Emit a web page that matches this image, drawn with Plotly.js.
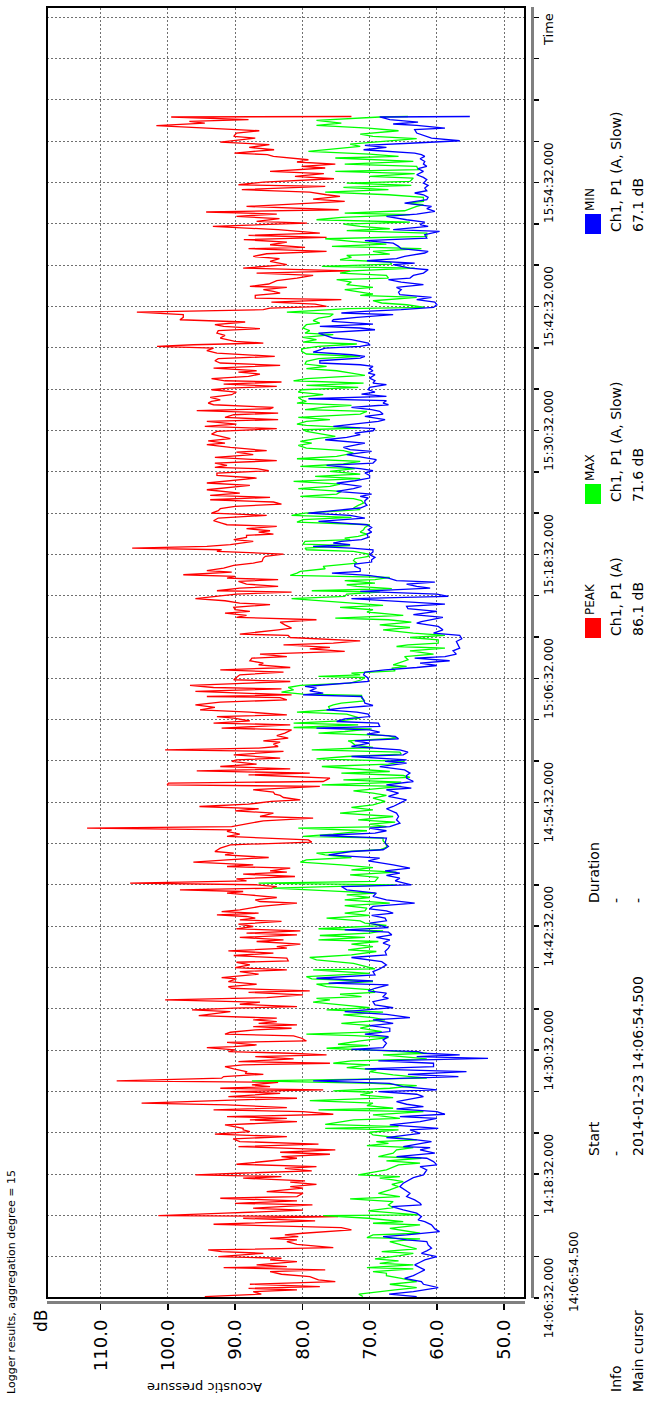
<!DOCTYPE html>
<html>
<head>
<meta charset="utf-8">
<script src="https://cdn.plot.ly/plotly-3.0.1.min.js"></script>
<style>
html,body{margin:0;padding:0;background:#fff;overflow:hidden;}
#wrap{position:absolute;left:0;top:0;width:648px;height:1402px;overflow:hidden;background:#fff;}
#chart{position:absolute;left:0;top:0;width:1402px;height:648px;transform-origin:0 0;transform:translate(0px,1402px) rotate(-90deg);}
</style>
</head>
<body>
<div id="wrap"><div id="chart"></div></div>
<script>
// ---------------- DATA ----------------
// readings: [minutes after 14:06:32, level in dB]
const chartTitle = 'Logger results, aggregation degree = 15';
const timeAxisStart = '2014-01-23 14:06:32';
const seriesNames = ['PEAK', 'MAX', 'MIN'];
const seriesColors = ['#ff0000', '#00ff00', '#0000ff'];

const peakReadings = [
[0.14,94.5],[0.38,86.1],[0.62,87.3],[0.78,80.8],[0.94,88.0],[1.10,77.4],[1.33,87.8],[1.59,75.1],[1.75,77.6],[2.07,78.9],
[2.30,83.1],[2.56,84.8],[2.72,76.6],[2.94,91.7],[3.04,82.3],[3.20,86.8],[3.53,80.8],[3.69,84.8],[3.85,83.1],[4.01,92.5],
[4.33,85.8],[4.49,92.0],[4.65,94.0],[4.88,75.4],[5.20,80.8],[5.46,82.3],[5.62,80.8],[5.78,84.8],[5.95,80.6],[6.11,82.6],
[6.27,79.9],[6.59,72.7],[6.82,74.2],[7.14,93.2],[7.46,78.1],[7.72,88.8],[7.88,74.7],[7.98,101.4],[8.21,91.5],[8.50,79.9],
[8.69,87.3],[9.01,78.5],[9.17,90.0],[9.40,80.8],[9.66,92.2],[9.82,80.8],[10.14,79.9],[10.30,85.3],[10.63,79.9],[10.79,81.8],
[11.01,77.9],[11.21,81.8],[11.34,79.6],[11.60,88.8],[11.76,83.1],[11.92,95.9],[12.08,89.5],[12.31,78.6],[12.56,82.6],[12.72,77.9],
[12.95,89.8],[13.53,80.8],[13.69,83.1],[13.92,75.9],[14.11,83.3],[14.34,75.1],[14.66,89.5],[14.89,77.6],[15.15,89.3],[15.40,90.3],
[15.63,82.3],[15.86,93.0],[16.11,87.8],[16.28,88.8],
[16.43,88.8],[16.76,91.5],[17.08,80.8],[17.24,87.8],[17.40,82.3],[17.56,91.2],[17.79,75.4],[18.05,79.9],[18.21,93.2],[18.44,82.3],
[18.69,91.2],[18.86,103.9],[19.18,89.3],[19.34,80.8],[19.50,91.0],[19.82,83.3],[19.99,90.7],[20.15,76.9],[20.31,92.2],[20.47,84.8],
[20.63,87.5],[20.89,83.6],[21.02,107.6],[21.28,92.0],[21.44,91.7],[21.66,85.8],[21.76,88.5],[21.92,88.3],[22.18,90.2],[22.41,91.5],
[22.57,88.8],[22.73,75.9],[22.89,89.5],[23.15,81.3],[23.37,87.0],[23.54,76.4],[23.70,81.8],[23.86,91.0],[24.02,90.0],[24.25,94.2],
[24.34,90.2],[24.50,86.8],[24.76,91.2],[24.89,79.4],[25.15,80.1],[25.38,81.3],[25.54,91.5],[25.73,90.7],[25.96,87.0],[26.12,81.6],
[26.28,87.3],[26.44,80.8],[26.60,86.5],[26.76,83.8],[26.93,87.3],[27.09,83.8],[27.35,95.4],[27.73,90.7],[27.89,96.4],[28.06,90.2],
[28.22,80.8],[28.44,89.3],[28.64,86.3],[28.86,100.4],[29.09,85.3],[29.35,79.9],[29.60,88.0],[29.73,78.9],[29.99,90.5],[30.15,91.0],
[30.38,86.8],[30.64,91.0],[30.90,89.8],[31.02,92.0],[31.35,86.5],[31.61,89.3],[31.77,82.3],[31.99,90.0],[32.25,87.8],[32.51,89.8],
[32.64,82.1],
[32.90,82.3],[33.16,90.2],[33.39,84.3],[33.61,91.0],[33.87,82.3],[34.03,83.8],[34.26,80.3],[34.52,86.8],[34.68,82.8],[34.91,89.3],
[35.16,80.8],[35.33,88.3],[35.55,80.3],[35.75,89.8],[35.97,87.3],[36.20,89.5],[36.46,83.1],[36.62,89.3],[36.78,87.0],[36.94,88.3],
[37.10,92.7],[37.26,86.5],[37.42,92.0],[37.58,89.3],[37.91,86.3],[38.23,80.8],[38.39,86.3],[38.55,87.0],[38.78,83.8],[39.04,88.0],
[39.20,91.2],[39.36,88.8],[39.52,98.2],[39.68,84.6],[39.84,83.8],[40.01,86.8],[40.17,105.6],[40.39,88.3],[40.59,89.8],[40.81,81.1],
[41.04,88.8],[41.23,82.3],[41.36,84.8],[41.62,81.8],[41.78,91.2],[41.94,87.3],[42.20,96.2],[42.43,91.2],[42.65,85.0],[42.91,91.5],
[43.07,90.2],[43.23,93.0],[43.56,92.2],[43.88,90.7],[44.14,78.6],[44.36,79.1],[44.69,91.2],[44.91,89.3],[45.17,91.2],[45.33,90.5],
[45.49,112.0],[45.65,90.5],[45.98,87.3],[46.20,85.8],[46.46,78.4],[46.62,86.3],[46.95,84.3],[47.17,90.0],[47.37,86.5],[47.59,95.3],
[47.82,88.0],[48.08,84.6],[48.24,80.3],[48.46,82.8],[48.66,83.3],[48.79,84.1],[48.98,84.3],[49.21,87.3],
[49.53,77.4],[49.69,100.1],[49.85,99.9],[50.01,76.9],[50.33,75.9],[50.66,88.0],[50.82,78.9],[51.04,95.7],[51.24,81.8],[51.46,92.2],
[51.69,86.8],[51.95,90.5],[52.11,89.8],[52.27,83.3],[52.59,90.2],[52.75,86.3],[52.92,82.8],[53.08,100.4],[53.24,86.5],[53.40,83.6],
[53.63,84.3],[53.82,83.3],[53.95,85.8],[54.21,82.1],[54.46,83.8],[54.69,82.6],[55.01,81.6],[55.17,92.0],[55.50,81.8],[55.66,93.2],
[55.88,87.8],[56.14,90.2],[56.30,92.7],[56.47,82.3],[56.72,87.8],[56.95,95.2],[57.18,93.0],[57.43,95.9],[57.69,92.2],[57.92,82.3],
[58.14,83.3],[58.24,94.2],[58.40,81.6],[58.73,95.9],[58.98,83.1],[59.11,93.2],[59.31,96.7],[59.69,81.8],[59.86,90.2],[60.08,89.8],
[60.34,89.3],[60.60,82.8],[60.82,92.2],[61.05,81.8],[61.31,86.5],[61.47,85.8],[61.70,87.8],[61.95,87.5],[62.11,82.3],[62.34,86.3],
[62.60,73.7],[62.86,78.9],[62.99,75.9],[63.24,82.8],[63.41,75.4],[63.63,71.4],[63.83,76.9],[63.95,81.8],[64.15,82.1],[64.28,89.3],
[64.70,83.6],[64.86,81.6],[65.18,82.6],[65.44,83.3],[65.67,77.9],
[65.90,89.8],[66.09,88.3],[66.32,91.5],[66.48,87.8],[66.64,90.0],[66.87,90.2],[67.13,84.8],[67.29,89.3],[67.51,91.5],[67.71,95.9],
[67.93,93.2],[68.16,89.8],[68.35,81.6],[68.48,92.7],[68.74,89.3],[68.90,83.6],[69.13,88.3],[69.39,89.5],[69.55,83.6],[69.71,91.2],
[69.87,90.0],[70.03,97.7],[70.29,90.5],[70.42,94.2],[70.68,91.7],[70.93,90.2],[71.16,87.3],[71.32,86.0],[71.64,85.8],[71.81,85.5],
[72.03,82.8],[72.29,92.7],[72.45,92.0],[72.61,105.3],[72.77,94.2],[72.94,90.7],[73.26,87.3],[73.42,90.2],[73.65,88.3],[73.84,88.3],
[73.97,84.3],[74.16,86.5],[74.29,84.8],[74.49,88.3],[74.71,83.8],[74.87,91.2],[75.03,92.0],[75.26,93.2],[75.52,92.5],[75.78,85.3],
[76.00,93.5],[76.23,92.5],[76.42,92.2],[76.65,90.0],[76.87,83.1],[77.07,84.3],[77.29,93.7],[77.52,84.8],[77.71,93.7],[77.94,89.3],
[78.26,94.2],[78.49,90.2],[78.68,87.8],[78.91,94.2],[79.13,91.2],[79.39,86.8],[79.65,92.7],[79.88,92.7],[80.10,85.0],[80.30,86.8],
[80.42,93.0],[80.62,91.2],[80.84,93.0],[81.07,83.8],[81.39,93.0],[81.65,87.3],[81.91,89.8],[82.04,85.3],
[82.36,90.7],[82.62,94.2],[82.78,91.5],[83.00,94.0],[83.20,90.7],[83.42,92.2],[83.65,93.5],[83.91,92.7],[84.17,83.8],[84.39,94.5],
[84.62,89.8],[84.88,94.2],[85.04,83.6],[85.26,91.5],[85.52,90.2],[85.68,83.6],[85.91,95.7],[86.10,84.8],[86.23,84.3],[86.49,93.2],
[86.65,94.0],[86.81,93.5],[86.97,92.2],[87.20,93.7],[87.46,90.5],[87.72,89.8],[87.94,93.5],[88.10,91.0],[88.27,83.8],[88.49,91.7],
[88.69,83.1],[88.81,91.5],[89.01,93.5],[89.23,88.0],[89.46,86.3],[89.65,89.5],[89.78,86.8],[90.04,93.2],[90.30,83.3],[90.53,92.2],
[90.75,93.0],[90.95,92.5],[91.17,84.1],[91.49,92.7],[91.72,94.2],[91.98,93.2],[92.14,101.6],[92.30,96.2],[92.46,85.8],[92.62,90.0],
[92.95,92.2],[93.21,91.5],[93.43,92.7],[93.66,92.5],[93.85,86.3],[94.08,91.7],[94.24,93.0],[94.50,88.5],[94.72,98.2],[94.95,97.7],
[95.21,97.7],[95.46,104.6],[95.69,85.8],[95.85,84.8],[96.01,76.4],[96.24,78.1],[96.43,84.6],[96.66,74.2],[96.82,87.0],[97.08,87.0],
[97.30,83.3],[97.47,84.3],[97.63,85.8],[97.85,82.3],[97.95,87.8],[98.18,85.0],[98.37,84.3],[98.50,83.8],
[98.75,80.8],[99.01,78.4],[99.24,86.8],[99.46,72.9],[99.72,88.8],[100.05,82.3],[100.37,84.8],[100.63,83.4],[100.85,87.3],[101.11,85.3],
[101.34,76.4],[101.60,88.0],[101.72,79.6],[101.98,84.8],[102.24,82.3],[102.47,88.7],[102.69,76.4],[102.89,88.0],[103.11,77.4],[103.44,83.6],
[103.76,93.3],[104.08,79.3],[104.24,86.8],[104.50,83.4],[104.73,89.8],[104.95,83.8],[105.15,94.3],[105.37,74.6],[105.69,88.3],[105.92,80.8],
[106.18,73.7],[106.40,78.4],[106.66,74.4],[106.82,76.4],[107.08,78.9],[107.31,89.0],[107.63,76.6],[107.79,89.5],[108.05,85.8],[108.37,75.3],
[108.60,81.1],[108.86,76.8],[109.08,84.8],[109.41,76.6],[109.57,80.1],[109.79,75.1],[109.99,80.8],[110.21,79.1],[110.54,84.3],[110.70,85.2],
[110.86,90.1],[111.18,84.2],[111.41,87.9],[111.67,84.9],[111.92,92.2],[112.31,87.0],[112.47,90.2],[112.80,89.8],[113.02,86.4],[113.28,94.2],
[113.51,101.7],[113.76,94.5],[113.93,96.8],[114.09,88.0],[114.35,99.5],[114.40,72.7]
];

const maxReadings = [
[0.14,71.0],[0.38,71.6],[0.78,66.2],[1.01,63.0],[1.33,67.0],[1.59,63.0],[1.91,65.3],[2.17,67.5],[2.40,67.5],[2.56,69.5],
[2.82,63.5],[2.94,70.4],[3.20,63.5],[3.36,68.5],[3.59,65.7],[3.78,69.2],[4.11,65.5],[4.33,63.5],[4.49,68.2],[4.75,63.0],
[5.14,65.3],[5.46,67.0],[5.72,62.5],[5.85,70.4],[6.11,69.5],[6.27,62.5],[6.75,67.0],[7.08,62.5],[7.24,69.5],[7.40,65.0],
[7.72,70.2],[7.98,76.9],[8.04,62.8],[8.43,70.2],[8.75,66.5],[9.01,67.2],[9.34,66.5],[9.59,72.9],[9.82,65.5],[10.14,68.7],
[10.47,67.0],[10.79,65.7],[11.01,66.7],[11.27,65.0],[11.43,66.5],[11.60,68.5],[11.76,65.5],[11.92,71.7],[12.40,67.5],[12.89,65.7],
[13.05,62.5],[13.27,67.5],[13.53,62.3],[13.69,68.7],[14.02,66.5],[14.34,66.0],[14.56,63.5],[14.76,70.4],[14.98,67.2],[15.15,69.0],
[15.31,63.0],[15.63,67.2],[15.79,69.5],[16.05,70.0],[16.28,65.7],
[16.43,76.6],[16.60,65.7],[16.82,76.6],[17.24,72.4],[17.40,65.5],[17.73,69.5],[18.05,62.0],[18.21,77.6],[18.37,66.5],[18.63,70.4],
[18.86,69.5],[19.11,78.9],[19.40,66.5],[19.66,71.4],[19.92,69.5],[20.05,75.4],[20.31,67.0],[20.57,63.0],[20.79,69.5],[21.02,87.5],
[21.28,61.5],[21.60,66.5],[21.92,70.0],[22.08,69.0],[22.31,73.4],[22.57,70.0],[22.73,75.4],[22.95,72.7],[23.15,61.5],[23.37,66.0],
[23.54,68.0],[23.70,61.5],[23.92,67.2],[24.18,76.4],[24.44,70.2],[24.57,74.7],[24.89,71.4],[25.21,67.2],[25.41,72.2],[25.54,79.4],
[25.80,68.2],[26.12,71.4],[26.38,69.7],[26.60,74.2],[26.93,67.7],[27.15,69.5],[27.41,73.9],[27.67,68.0],[27.89,76.4],[28.12,70.0],
[28.38,74.4],[28.64,78.4],[28.86,75.9],[29.02,77.9],[29.18,71.2],[29.41,74.4],[29.60,69.2],[29.83,69.5],[30.15,76.4],[30.38,77.9],
[30.64,69.5],[30.90,78.6],[31.12,79.4],[31.44,70.0],[31.77,78.4],[31.86,69.2],[32.41,72.4],[32.74,77.9],
[32.97,78.9],[33.23,72.7],[33.55,69.0],[33.71,73.2],[34.03,69.5],[34.26,72.7],[34.52,68.7],[34.68,77.6],[34.91,70.7],[35.10,77.4],
[35.33,70.0],[35.55,68.0],[35.75,77.6],[36.07,67.5],[36.29,70.7],[36.52,71.4],[36.78,76.4],[37.04,70.0],[37.26,73.7],[37.49,70.7],
[37.75,70.4],[38.00,73.7],[38.23,67.0],[38.55,73.7],[38.78,70.0],[39.04,73.4],[39.20,69.2],[39.42,75.4],[39.68,84.3],[40.01,66.2],
[40.17,86.5],[40.33,69.2],[40.72,68.7],[40.97,72.9],[41.23,66.0],[41.46,72.7],[41.68,69.5],[41.94,74.2],[42.20,80.3],[42.43,79.4],
[42.65,72.7],[42.91,76.6],[43.07,77.9],[43.40,68.5],[43.62,67.5],[43.94,67.5],[44.27,68.0],[44.53,68.0],[44.69,79.9],[44.91,75.4],
[45.24,70.4],[45.49,80.6],[45.65,67.5],[45.88,70.0],[46.07,66.2],[46.30,71.7],[46.62,66.5],[46.95,74.4],[47.27,69.5],[47.50,72.7],
[47.75,69.5],[48.08,67.7],[48.40,69.5],[48.66,67.5],[48.88,69.5],[49.11,72.4],
[49.53,65.3],[49.69,77.1],[49.95,65.3],[50.17,73.9],[50.40,64.0],[50.59,65.0],[50.82,74.2],[50.98,67.0],[51.24,72.4],[51.46,77.1],
[51.69,67.2],[51.95,64.8],[52.20,77.9],[52.43,73.4],[52.66,65.3],[52.85,65.5],[53.08,78.6],[53.30,69.5],[53.56,72.2],[53.82,72.7],
[53.95,73.2],[54.21,66.0],[54.46,67.2],[54.69,77.6],[54.85,73.7],[55.11,69.7],[55.24,81.3],[55.50,71.7],[55.66,81.3],[55.88,74.4],
[56.14,71.4],[56.30,72.4],[56.53,73.4],[56.72,80.8],[56.95,75.9],[57.27,76.1],[57.43,75.4],[57.60,74.2],[57.82,70.7],[58.08,71.2],
[58.34,71.2],[58.47,79.9],[58.66,83.1],[58.89,81.3],[59.11,82.1],[59.31,80.3],[59.53,72.9],[59.86,71.2],[60.08,70.7],[60.18,77.6],
[60.34,71.4],[60.50,72.7],[60.73,66.2],[60.99,66.7],[61.15,64.5],[61.31,66.5],[61.79,64.3],[62.11,64.8],[62.34,60.5],[62.66,64.0],
[62.92,58.8],[63.08,66.0],[63.24,64.3],[63.41,59.8],[63.73,59.8],[63.95,64.0],[64.15,58.8],[64.37,63.5],[64.70,68.0],[64.92,64.0],
[65.18,68.5],[65.44,63.8],[65.67,67.2],
[65.83,75.1],[66.09,65.0],[66.22,67.0],[66.42,70.4],[66.64,69.5],[66.87,74.4],[67.06,68.0],[67.29,72.7],[67.51,76.9],[67.71,81.6],
[67.93,73.7],[68.16,73.4],[68.35,68.5],[68.48,78.6],[68.68,66.7],[68.90,71.9],[69.06,73.4],[69.22,69.2],[69.45,73.7],[69.55,69.2],
[69.77,67.0],[69.97,81.8],[70.19,80.8],[70.35,80.3],[70.61,76.6],[70.84,76.9],[71.16,71.9],[71.39,72.4],[71.58,72.2],[71.81,70.2],
[72.03,70.2],[72.29,72.4],[72.45,79.4],[72.61,79.6],[72.84,72.9],[73.00,79.9],[73.26,79.6],[73.42,72.9],[73.58,73.7],[73.74,71.7],
[73.97,70.4],[74.16,71.4],[74.39,70.9],[74.61,70.7],[74.87,70.0],[75.13,80.8],[75.36,79.9],[75.58,72.7],[75.78,81.6],[76.00,79.6],
[76.33,71.4],[76.49,72.4],[76.75,71.7],[76.97,70.9],[77.20,71.2],[77.39,72.4],[77.62,80.3],[77.84,74.9],[78.10,74.2],[78.36,80.6],
[78.58,75.9],[78.81,74.4],[79.07,81.3],[79.33,71.4],[79.55,78.1],[79.78,71.4],[80.04,75.9],[80.30,72.2],[80.52,80.3],[80.75,73.9],
[81.01,71.4],[81.26,80.8],[81.49,74.9],[81.81,72.4],[82.04,73.9],
[82.29,79.4],[82.55,80.6],[82.78,78.6],[82.94,80.3],[83.20,77.9],[83.42,75.1],[83.65,76.9],[83.91,79.4],[84.07,79.9],[84.23,71.4],
[84.49,79.4],[84.62,80.8],[84.88,79.4],[85.04,75.9],[85.26,80.6],[85.46,74.9],[85.59,71.4],[85.85,70.4],[86.01,79.6],[86.23,76.9],
[86.43,72.7],[86.65,80.8],[86.81,79.4],[86.97,80.1],[87.20,80.6],[87.46,76.9],[87.72,80.6],[87.94,80.1],[88.17,71.7],[88.36,79.4],
[88.59,70.9],[88.81,81.3],[89.01,79.4],[89.14,76.1],[89.33,70.7],[89.56,72.7],[89.78,74.9],[89.98,79.4],[90.20,76.4],[90.43,79.6],
[90.69,79.4],[90.95,77.6],[91.17,71.4],[91.40,79.4],[91.66,80.1],[91.91,80.1],[92.14,77.6],[92.37,71.9],[92.56,79.9],[92.79,77.9],
[93.01,79.9],[93.27,75.4],[93.43,79.6],[93.66,78.9],[93.92,79.9],[94.24,79.4],[94.40,77.4],[94.63,78.4],[94.88,77.6],[95.04,75.9],
[95.27,75.4],[95.46,82.3],[95.79,73.2],[95.92,61.8],[96.17,64.5],[96.34,68.2],[96.56,69.5],[96.88,63.0],[97.08,71.4],[97.21,69.5],
[97.40,71.4],[97.63,73.7],[97.85,69.5],[98.11,73.4],[98.37,72.7],[98.60,74.9],
[98.75,67.2],[99.01,67.5],[99.24,74.4],[99.46,72.7],[99.72,63.3],[99.88,77.1],[100.11,66.7],[100.30,67.0],[100.53,74.4],[100.76,72.7],
[100.95,73.4],[101.08,67.0],[101.34,69.5],[101.60,62.3],[101.82,75.6],[102.05,67.5],[102.31,72.7],[102.56,76.6],[102.79,61.5],[103.11,61.5],
[103.34,73.4],[103.53,67.0],[103.76,71.4],[103.98,73.9],[104.18,64.0],[104.40,77.9],[104.63,74.2],[104.89,64.0],[105.05,73.7],[105.27,64.8],
[105.69,63.0],[105.86,62.0],[106.02,64.5],[106.18,62.0],[106.57,62.0],[106.82,67.2],[107.08,76.6],[107.31,67.2],[107.53,73.9],[107.73,63.8],
[107.95,73.4],[108.12,64.0],[108.44,63.5],[108.60,70.0],[108.86,63.3],[109.08,75.1],[109.25,62.8],[109.57,63.0],[109.79,73.7],[110.05,63.5],
[110.38,75.1],[110.54,65.7],[110.76,70.0],[111.02,79.1],[111.51,71.4],[111.73,72.9],[111.99,68.0],[112.25,63.0],[112.47,69.5],[112.70,71.4],
[113.02,65.7],[113.28,70.2],[113.54,77.9],[113.76,74.2],[114.02,77.9],[114.35,68.5],[114.40,64.3]
];

const minReadings = [
[0.14,63.0],[0.38,67.1],[0.62,63.5],[1.01,59.8],[1.33,62.0],[1.59,62.3],[1.91,64.8],[2.17,63.5],[2.40,62.8],[2.72,61.8],
[2.94,62.5],[3.20,63.3],[3.46,62.5],[3.69,61.8],[4.01,60.0],[4.33,62.3],[4.56,61.5],[4.82,60.8],[5.14,61.3],[5.46,61.5],
[5.62,64.5],[5.95,68.0],[6.11,64.5],[6.43,59.6],[6.69,60.3],[7.08,60.8],[7.40,61.8],[7.56,62.8],[7.88,62.3],[8.21,63.0],
[8.53,65.0],[8.85,66.7],[9.01,62.3],[9.17,62.5],[9.50,63.3],[9.82,64.5],[10.14,64.0],[10.47,64.8],[10.79,65.5],[11.11,65.0],
[11.43,64.0],[11.66,63.5],[11.92,62.0],[12.40,61.5],[12.72,62.5],[12.89,60.0],[13.21,60.5],[13.53,61.5],[13.69,66.0],[14.02,60.3],
[14.34,62.5],[14.56,61.0],[14.66,65.0],[14.98,62.3],[15.15,60.8],[15.31,63.0],[15.53,67.5],[15.95,62.5],[16.28,64.0],
[16.43,59.8],[16.76,67.0],[17.08,62.5],[17.40,60.0],[17.56,65.5],[17.79,58.8],[18.05,60.0],[18.31,66.0],[18.53,62.0],[18.76,64.5],
[19.02,66.0],[19.34,63.0],[19.50,62.0],[19.73,63.0],[19.99,68.7],[20.15,60.0],[20.47,65.0],[20.79,67.0],[21.02,78.4],[21.21,68.0],
[21.44,56.8],[21.66,64.3],[21.92,55.6],[22.18,70.7],[22.41,60.5],[22.73,60.5],[22.95,68.7],[23.21,52.4],[23.37,63.0],[23.54,56.6],
[23.70,62.0],[23.86,62.8],[24.08,72.7],[24.25,68.0],[24.67,67.5],[24.99,68.0],[25.31,67.2],[25.54,70.7],[25.80,67.0],[26.12,67.0],
[26.38,70.0],[26.60,66.5],[26.93,69.5],[27.15,64.0],[27.47,67.5],[27.73,73.7],[28.12,66.5],[28.38,69.2],[28.70,69.5],[29.02,67.2],
[29.18,68.0],[29.51,67.5],[29.73,70.2],[29.99,69.2],[30.31,67.2],[30.48,76.1],[30.70,69.5],[30.96,77.9],[31.28,69.2],[31.61,69.5],
[31.86,68.5],[32.25,67.5],[32.57,68.2],
[32.97,72.7],[33.23,67.5],[33.55,67.7],[33.87,67.2],[34.13,67.0],[34.36,68.0],[34.68,67.0],[34.91,69.0],[35.16,66.7],[35.42,67.2],
[35.65,73.7],[35.87,67.2],[36.07,68.5],[36.29,70.0],[36.52,67.5],[36.78,67.7],[37.04,69.7],[37.26,66.5],[37.49,67.5],[37.68,70.0],
[37.91,69.5],[38.23,63.3],[38.55,67.5],[38.88,69.5],[39.20,69.0],[39.52,73.4],[39.84,74.2],[40.01,63.8],[40.39,66.2],[40.65,65.5],
[40.91,67.5],[41.14,65.5],[41.36,67.7],[41.62,64.0],[41.94,66.5],[42.33,70.2],[42.59,68.5],[42.75,72.9],[42.91,76.1],[43.23,72.7],
[43.40,68.0],[43.72,67.2],[44.04,67.7],[44.53,67.5],[44.78,77.4],[45.01,69.2],[45.24,67.5],[45.49,70.0],[45.65,67.0],[45.98,65.5],
[46.30,66.0],[46.62,65.7],[46.95,66.0],[47.37,67.5],[47.59,66.5],[47.91,65.5],[48.24,64.5],[48.56,67.2],[48.88,65.7],[49.21,67.5],
[49.36,63.8],[49.69,67.5],[50.01,63.5],[50.33,64.5],[50.59,64.5],[50.82,64.0],[51.14,64.8],[51.46,68.5],[51.79,64.5],[51.95,67.7],
[52.11,64.5],[52.43,72.7],[52.59,65.0],[52.85,64.3],[53.08,65.5],[53.40,72.7],[53.72,70.0],[53.95,72.2],[54.14,65.7],[54.37,66.2],
[54.59,70.4],[54.79,68.5],[55.01,70.0],[55.17,77.9],[55.34,68.5],[55.66,68.7],[55.82,74.9],[56.08,73.7],[56.30,70.0],[56.53,70.2],
[56.72,71.9],[56.95,76.4],[57.11,74.2],[57.37,69.5],[57.60,70.7],[57.92,70.9],[58.24,71.2],[58.40,79.9],[58.56,76.9],[58.79,78.9],
[59.05,77.9],[59.21,79.6],[59.53,72.5],[59.69,70.2],[60.02,70.2],[60.34,70.9],[60.60,70.7],[60.82,67.7],[61.05,63.0],[61.24,60.0],
[61.47,62.5],[61.70,58.1],[61.95,63.3],[62.11,58.8],[62.34,57.1],[62.66,57.6],[62.92,56.6],[63.24,56.8],[63.57,57.1],[63.83,56.3],
[64.15,56.6],[64.37,60.5],[64.70,59.1],[65.02,59.8],[65.34,63.0],[65.50,62.3],
[65.90,59.1],[66.16,63.5],[66.48,60.0],[66.74,64.3],[66.96,64.5],[67.19,58.8],[67.45,66.5],[67.71,72.7],[67.93,58.3],[68.16,60.0],
[68.42,71.4],[68.74,61.0],[68.90,63.0],[69.13,64.5],[69.32,60.3],[69.45,66.0],[69.71,67.2],[69.97,70.2],[70.19,75.6],[70.35,71.4],
[70.61,71.4],[70.84,72.2],[71.06,72.2],[71.26,69.7],[71.48,69.7],[71.71,69.2],[71.97,70.0],[72.23,69.5],[72.45,69.5],[72.61,72.7],
[72.77,78.4],[72.94,72.9],[73.10,75.4],[73.26,74.2],[73.42,71.2],[73.65,70.2],[73.97,70.4],[74.16,69.7],[74.39,70.2],[74.61,69.7],
[74.87,70.4],[75.20,77.6],[75.52,70.7],[75.78,72.9],[76.00,79.1],[76.49,71.4],[76.75,70.4],[76.97,70.7],[77.20,70.7],[77.46,70.2],
[77.62,71.4],[77.84,69.7],[78.10,74.9],[78.36,72.4],[78.58,71.2],[78.91,74.9],[79.13,72.2],[79.39,70.0],[79.65,70.0],[79.88,70.7],
[80.10,69.5],[80.30,71.4],[80.62,76.4],[80.84,69.5],[81.17,69.0],[81.65,73.4],[81.97,69.7],[82.14,72.9],
[82.36,73.9],[82.62,71.9],[82.78,70.7],[83.10,76.6],[83.33,73.4],[83.59,71.4],[83.75,72.2],[83.97,69.5],[84.17,69.2],[84.39,75.4],
[84.62,72.4],[84.88,68.7],[85.04,67.7],[85.36,70.7],[85.59,68.0],[85.85,68.5],[86.01,69.7],[86.23,72.7],[86.49,67.2],[86.65,68.0],
[86.88,67.5],[87.07,79.1],[87.30,67.5],[87.52,71.2],[87.72,69.2],[87.94,70.2],[88.17,70.0],[88.43,67.5],[88.59,69.5],[88.81,69.2],
[89.07,70.0],[89.40,69.2],[89.56,70.2],[89.78,69.5],[89.98,70.0],[90.20,69.5],[90.36,71.4],[90.53,77.4],[90.75,77.4],[91.01,71.4],
[91.17,70.7],[91.33,72.7],[91.59,78.4],[91.98,76.6],[92.14,71.4],[92.30,70.0],[92.46,70.2],[92.79,72.7],[92.95,75.4],[93.21,76.6],
[93.43,77.6],[93.75,69.2],[93.92,71.4],[94.08,77.4],[94.30,69.5],[94.56,75.6],[94.72,75.4],[94.95,71.9],[95.21,66.5],[95.37,74.2],
[95.53,70.7],[95.69,65.3],[95.92,60.5],[96.17,60.0],[96.43,60.3],[96.66,63.0],[96.88,60.8],[97.14,65.5],[97.40,65.7],[97.63,65.3],
[97.85,66.0],[98.11,62.0],[98.37,65.3],[98.60,67.2],
[98.75,64.0],[99.01,63.5],[99.24,62.0],[99.56,61.3],[99.72,64.0],[100.05,66.5],[100.21,63.3],[100.43,70.4],[100.63,66.0],[100.85,64.8],
[101.18,61.8],[101.34,61.3],[101.60,65.3],[101.82,65.7],[102.14,66.5],[102.37,70.7],[102.63,61.5],[102.95,61.8],[103.27,59.6],[103.44,66.5],
[103.76,61.3],[103.92,62.5],[104.18,61.8],[104.40,64.5],[104.73,67.5],[104.95,63.0],[105.21,60.3],[105.47,61.5],[105.69,60.8],[106.02,64.8],
[106.34,61.5],[106.57,61.3],[106.82,62.0],[106.99,63.3],[107.21,61.5],[107.47,61.8],[107.73,61.3],[107.95,62.0],[108.28,61.5],[108.50,62.0],
[108.76,63.0],[109.08,62.0],[109.34,62.8],[109.57,61.5],[109.79,62.0],[110.05,61.8],[110.31,62.5],[110.54,61.8],[110.70,62.3],[110.86,63.3],
[111.18,70.9],[111.41,67.5],[111.60,70.7],[111.83,63.3],[112.05,56.6],[112.31,60.8],[112.80,63.0],[113.12,63.3],[113.28,58.8],[113.54,63.0],
[113.67,66.5],[113.86,62.8],[114.09,67.0],[114.35,68.5],[114.40,55.1]
];

const timeAxisMinutes = 125;
const gridMinutes = 4;
const timeTickLabels = ['14:06:32.000','14:18:32.000','14:30:32.000','14:42:32.000','14:54:32.000',
  '15:06:32.000','15:18:32.000','15:30:32.000','15:42:32.000','15:54:32.000'];
const dbTicks = [50, 60, 70, 80, 90, 100, 110];
const dbTickLabels = ['50.0','60.0','70.0','80.0','90.0','100.0','110.0'];
const dbRange = [46.9, 117.96];

const xAxisName = 'Time';
const yAxisName = 'Acoustic pressure';
const yUnit = 'dB';
const cursorTimeLabel = '14:06:54.500';
const tableRowLabels = ['Info', 'Main cursor'];
const tableHeaders = ['Start', 'Duration'];
const tableInfo = ['-', '-'];
const tableCursor = ['2014-01-23 14:06:54.500', '-'];
const seriesInfo = ['Ch1, P1 (A)', 'Ch1, P1 (A, Slow)', 'Ch1, P1 (A, Slow)'];
const cursorValues = ['86.1 dB', '71.6 dB', '67.1 dB'];

// ---------------- LAYOUT HELPERS ----------------
const W = 1402, H = 648;
const M = {l: 99, r: 7, t: 47, b: 116};
const PW = W - M.l - M.r, PH = H - M.t - M.b;
const FONT = 'DejaVu Sans, Verdana, sans-serif';
function px(X){ return (X - M.l) / PW; }
function py(Y){ return (H - M.b - Y) / PH; }
function fmt(ms){ return new Date(ms).toISOString().slice(0,23).replace('T',' '); }
function toMs(s){ return Date.parse(s.replace(' ','T') + 'Z'); }

const axStart = toMs(timeAxisStart);
const gridVals = [], gridText = [];
for (let k = 0; k * gridMinutes < timeAxisMinutes; k++) {
  gridVals.push(fmt(axStart + k * gridMinutes * 60000));
  gridText.push(k % 3 === 0 && timeTickLabels[k/3] ? timeTickLabels[k/3] : '');
}

const readings = [peakReadings, maxReadings, minReadings];
const traces = readings.map((r, s) => ({
  type: 'scatter', mode: 'lines', name: seriesNames[s],
  x: r.map(p => fmt(axStart + p[0] * 60000)),
  y: r.map(p => p[1]),
  line: {color: seriesColors[s], width: 1.3},
  hoverinfo: 'skip'
}));

function ann(text, X, Y, size, xanchor, extra){
  return Object.assign({
    text: text, x: px(X), y: py(Y), xref: 'paper', yref: 'paper',
    xanchor: xanchor || 'left', yanchor: 'middle', showarrow: false,
    font: {family: FONT, size: size, color: '#000'}
  }, extra || {});
}

const TF = 14;
const colX = [244, 497, 764, 898, 1168];
const rowY = [594, 616, 638];
const annotations = [
  ann(chartTitle, 6, 11, 11, 'left'),
  ann(yUnit, 81, 41, 17, 'center'),
  ann(yAxisName, 15, 205, 13, 'center', {textangle: -90}),
  ann(xAxisName, 1372, 548, 13, 'center'),
  ann(cursorTimeLabel, 130, 574, 12, 'center'),
  ann(tableRowLabels[0], 8, rowY[1], TF, 'left'),
  ann(tableRowLabels[1], 8, rowY[2], TF, 'left')
];
tableHeaders.forEach((h, c) => {
  annotations.push(ann(h, colX[c], rowY[0], TF, 'left'));
  annotations.push(ann(tableInfo[c], colX[c], rowY[1], TF, 'left'));
  annotations.push(ann(tableCursor[c], colX[c], rowY[2], TF, 'left'));
});
const shapes = [
  {type: 'rect', xref: 'paper', yref: 'paper', x0: px(104), x1: 1, y0: py(525), y1: 1,
   line: {color: '#000', width: 2}, layer: 'above'}
];
seriesNames.forEach((n, s) => {
  const X = colX[2 + s];
  shapes.push({type: 'rect', xref: 'paper', yref: 'paper', x0: px(X), x1: px(X + 20),
    y0: py(601), y1: py(585), fillcolor: seriesColors[s], line: {width: 0}});
  annotations.push(ann(n, X + 21, 590, 12, 'left'));
  annotations.push(ann(seriesInfo[s], X, rowY[1], TF, 'left'));
  annotations.push(ann(cursorValues[s], X, rowY[2], TF, 'left'));
});

const layout = {
  width: W, height: H,
  margin: M,
  paper_bgcolor: '#fff', plot_bgcolor: '#fff',
  showlegend: false,
  font: {family: FONT, color: '#000'},
  xaxis: {
    type: 'date', range: [fmt(axStart), fmt(axStart + timeAxisMinutes * 60000)],
    domain: [px(104), 1], anchor: 'free', position: 0,
    showline: true, linecolor: '#808080', linewidth: 3,
    ticks: 'outside', ticklen: 5, tickwidth: 1.5, tickcolor: '#000',
    tickmode: 'array', tickvals: gridVals, ticktext: gridText,
    showgrid: true, gridcolor: '#707070', gridwidth: 1, griddash: '2px,2px',
    zeroline: false, tickangle: 0,
    tickfont: {family: FONT, size: 12, color: '#000'}
  },
  yaxis: {
    range: dbRange, domain: [py(525), 1], anchor: 'free', position: 0, side: 'left',
    showline: true, linecolor: '#808080', linewidth: 3,
    ticks: 'outside', ticklen: 6, tickwidth: 1.5, tickcolor: '#000',
    tickmode: 'array', tickvals: dbTicks, ticktext: dbTickLabels,
    showgrid: true, gridcolor: '#707070', gridwidth: 1, griddash: '2px,2px',
    zeroline: false, ticklabelstandoff: 6,
    tickfont: {family: FONT, size: 18, color: '#000'}
  },
  annotations: annotations,
  shapes: shapes
};

Plotly.newPlot('chart', traces, layout, {staticPlot: true, displayModeBar: false});
</script>
</body>
</html>
